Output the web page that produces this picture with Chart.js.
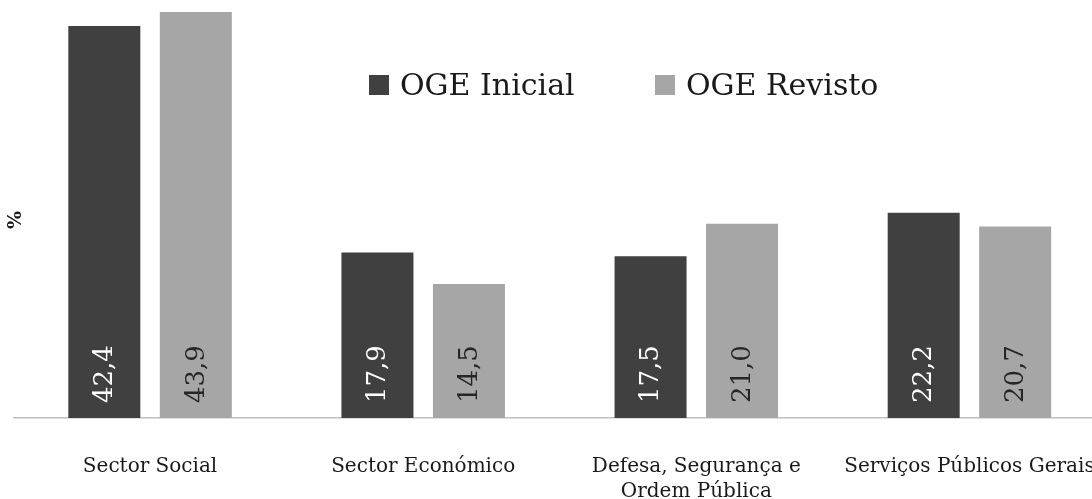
<!DOCTYPE html>
<html>
<head>
<meta charset="utf-8">
<script src="https://cdn.jsdelivr.net/npm/chart.js@4.4.1/dist/chart.umd.min.js"></script>
<style>
    html, body { margin: 0; padding: 0; overflow: hidden; background: #fff; }
    #wrap { width: 1106px; height: 499px; }
</style>
</head>
<body>
<div id="wrap"><canvas id="despesaSector"></canvas></div>
<script>
// Dados do gráfico
const categorias = ['Sector Social', 'Sector Económico', ['Defesa, Segurança e', 'Ordem Pública'], 'Serviços Públicos Gerais'];
const ogeInicial = [42.4, 17.9, 17.5, 22.2];
const ogeRevisto = [43.9, 14.5, 21.0, 20.7];
const seriesNomes = ['OGE Inicial', 'OGE Revisto'];
const corInicial = '#404040';
const corRevisto = '#a6a6a6';
const fonteSerif = '"DejaVu Serif", serif';

// rótulos de valor dentro das barras, rodados
const valoresPlugin = {
    id: 'valores',
    afterDatasetsDraw(chart) {
        const ctx = chart.ctx;
        chart.data.datasets.forEach((ds, i) => {
            const meta = chart.getDatasetMeta(i);
            meta.data.forEach((bar, j) => {
                const txt = ds.data[j].toFixed(1).replace('.', ',');
                ctx.save();
                ctx.translate(bar.x, bar.base - 15);
                ctx.rotate(-Math.PI / 2);
                ctx.font = '26px ' + fonteSerif;
                ctx.fillStyle = i === 0 ? '#ffffff' : '#262626';
                ctx.textAlign = 'left';
                ctx.textBaseline = 'middle';
                ctx.fillText(txt, 0, 1);
                ctx.restore();
            });
        });
    }
};

// legenda dentro da área e título do eixo y
const legendaPlugin = {
    id: 'legendaInterna',
    afterDraw(chart) {
        const ctx = chart.ctx;
        const posX = [369, 655];
        ctx.save();
        chart.data.datasets.forEach((ds, i) => {
            ctx.fillStyle = ds.backgroundColor;
            ctx.fillRect(posX[i], 75, 20, 20);
            ctx.fillStyle = '#1a1a1a';
            ctx.font = '30px ' + fonteSerif;
            ctx.textAlign = 'left';
            ctx.textBaseline = 'alphabetic';
            ctx.fillText(ds.label, posX[i] + 31, 95);
        });
        ctx.translate(16, 220);
        ctx.rotate(-Math.PI / 2);
        ctx.font = 'bold 19px ' + fonteSerif;
        ctx.textAlign = 'center';
        ctx.textBaseline = 'middle';
        ctx.fillText('%', 0, 0);
        ctx.restore();
    }
};

const ctx = document.getElementById('despesaSector').getContext('2d');

const despesaSector = new Chart(ctx, {
    type: 'bar',
    data: {
        labels: categorias,
        datasets: [
            {
                label: seriesNomes[0],
                data: ogeInicial,
                backgroundColor: corInicial,
                categoryPercentage: 0.67,
                barPercentage: 0.787,
            },
            {
                label: seriesNomes[1],
                data: ogeRevisto,
                backgroundColor: corRevisto,
                categoryPercentage: 0.67,
                barPercentage: 0.787,
            }
        ]
    },
    options: {
        responsive: true,
        maintainAspectRatio: false,
        animation: false,
        layout: {
            padding: { left: 13.5, right: 0, top: 0, bottom: 0 }
        },
        plugins: {
            legend: { display: false },
            tooltip: { enabled: false }
        },
        scales: {
            x: {
                grid: { display: false },
                border: { display: true, color: '#c0c0c0', width: 1.5 },
                ticks: {
                    color: '#1a1a1a',
                    maxRotation: 0,
                    autoSkip: false,
                    padding: 28,
                    font: { size: 20, family: fonteSerif, lineHeight: 1.25 }
                },
                afterFit(scale) {
                    scale.height = 81;
                    scale.paddingLeft = 0;
                    scale.paddingRight = 0;
                }
            },
            y: {
                display: false,
                min: 0,
                max: 45.2
            }
        }
    },
    plugins: [valoresPlugin, legendaPlugin]
});
</script>
</body>
</html>
